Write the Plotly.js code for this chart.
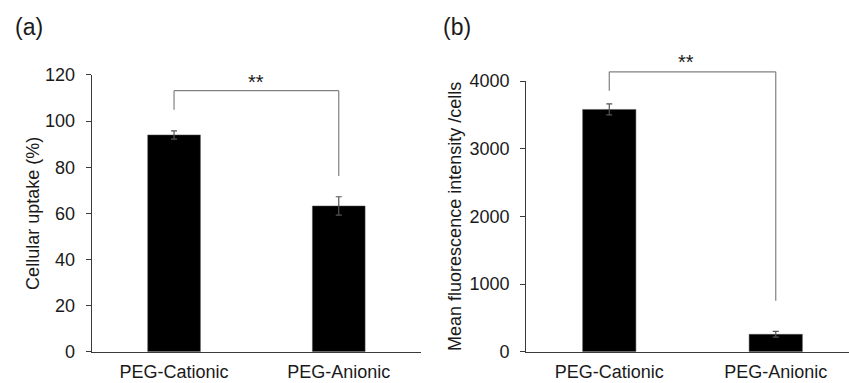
<!DOCTYPE html>
<html>
<head>
<meta charset="utf-8">
<script src="https://cdn.plot.ly/plotly-3.0.1.min.js"></script>
<style>html,body{margin:0;padding:0;background:#fff;}#chart{width:849px;height:383px;}</style>
</head>
<body>
<div id="chart"></div>
<script>
// ---- data ----
const categories = ["PEG-Cationic", "PEG-Anionic"];
const uptakeValues = [94.0, 63.2];
const uptakeErrors = [1.8, 4.0];
const mfiValues = [3580, 257];
const mfiErrors = [82, 42];
// significance brackets: [top level, left leg bottom, right leg bottom]
const bracketA = [113.2, 104.9, 76.2];
const bracketB = [4136, 3855, 753];
const sigLabel = "**";
const panelLabels = ["(a)", "(b)"];
const yTitles = ["Cellular uptake (%)", "Mean fluorescence intensity /cells"];
const yTicksA = [0, 20, 40, 60, 80, 100, 120];
const yTicksB = [0, 1000, 2000, 3000, 4000];

const FONT = "Liberation Sans, Arial, sans-serif";
const TXT = "#1a1a1a";
const AXC = "#3a3a3a";

// layout geometry
const domA = [0.0817, 0.8042];
const domB = [0.0817, 0.7885];
const rangeA = [0, 120];
const rangeB = [0, 4000];
// invisible overlay scale for panel (b) brackets, same units as y2 but taller domain
const domB3 = [0.0817, 0.97];
const rangeB3 = [0, rangeB[1] * (domB3[1] - domB3[0]) / (domB[1] - domB[0])];

function barTrace(vals, errs, xa, ya) {
  return {
    type: "bar", x: categories, y: vals, xaxis: xa, yaxis: ya,
    width: 0.32,
    marker: {color: "#000000", line: {color: "#555555", width: 0.5}},
    error_y: {type: "data", array: errs, visible: true, color: "#555555", thickness: 1.2, width: 3},
    hoverinfo: "skip", showlegend: false
  };
}

function bracket(xref, yref, b) {
  const line = {color: "#808080", width: 1.2};
  return [
    {type: "line", xref: xref, yref: yref, x0: categories[0], x1: categories[0], y0: b[1], y1: b[0], line: line},
    {type: "line", xref: xref, yref: yref, x0: categories[0], x1: categories[1], y0: b[0], y1: b[0], line: line},
    {type: "line", xref: xref, yref: yref, x0: categories[1], x1: categories[1], y0: b[2], y1: b[0], line: line}
  ];
}

const yAxisCommon = {
  showgrid: false, zeroline: false, showline: true, linecolor: AXC, linewidth: 1,
  ticks: "outside", ticklen: 5, tickcolor: AXC, tickwidth: 1,
  tickfont: {family: FONT, size: 18, color: TXT},
  ticklabelstandoff: 7, fixedrange: true
};
const xAxisCommon = {
  showgrid: false, zeroline: false, showline: true, linecolor: AXC, linewidth: 1,
  ticks: "", tickfont: {family: FONT, size: 18, color: TXT},
  ticklabelstandoff: 4, fixedrange: true, type: "category"
};

const layout = {
  width: 849, height: 383,
  margin: {l: 0, r: 0, t: 0, b: 0},
  paper_bgcolor: "#ffffff", plot_bgcolor: "rgba(0,0,0,0)",
  showlegend: false, bargap: 0,
  xaxis: Object.assign({}, xAxisCommon, {domain: [0.108, 0.496], range: [-0.5, 1.5], anchor: "y"}),
  yaxis: Object.assign({}, yAxisCommon, {domain: domA, range: rangeA, tickvals: yTicksA,
    anchor: "x", title: {text: yTitles[0], font: {family: FONT, size: 18, color: TXT}, standoff: 0}}),
  xaxis2: Object.assign({}, xAxisCommon, {domain: [0.6196, 1.0], range: [-0.5, 1.44], anchor: "y2"}),
  yaxis2: Object.assign({}, yAxisCommon, {domain: domB, range: rangeB, tickvals: yTicksB,
    anchor: "x2", title: {text: yTitles[1], font: {family: FONT, size: 18, color: TXT}, standoff: 3}}),
  yaxis3: {domain: domB3, range: rangeB3, anchor: "x2", visible: false, fixedrange: true,
    showgrid: false, zeroline: false, showline: false, showticklabels: false},
  shapes: bracket("x", "y", bracketA).concat(bracket("x2", "y3", bracketB)),
  annotations: [
    {xref: "paper", yref: "paper", x: 13/849, y: 1 - 27/383, xanchor: "left", yanchor: "middle",
     text: panelLabels[0], showarrow: false, font: {family: FONT, size: 23, color: TXT}},
    {xref: "paper", yref: "paper", x: 441/849, y: 1 - 27/383, xanchor: "left", yanchor: "middle",
     text: panelLabels[1], showarrow: false, font: {family: FONT, size: 23, color: TXT}},
    {xref: "x", yref: "y", x: 0.5, y: bracketA[0], yanchor: "middle", yshift: 9,
     text: sigLabel, showarrow: false, font: {family: FONT, size: 20, color: TXT}},
    {xref: "x2", yref: "y3", x: 0.46, y: bracketB[0], yanchor: "middle", yshift: 10,
     text: sigLabel, showarrow: false, font: {family: FONT, size: 20, color: TXT}}
  ]
};

Plotly.newPlot("chart", [
  barTrace(uptakeValues, uptakeErrors, "x", "y"),
  barTrace(mfiValues, mfiErrors, "x2", "y2"),
  {type: "scatter", mode: "none", x: [], y: [], xaxis: "x2", yaxis: "y3", showlegend: false, hoverinfo: "skip"}
], layout, {staticPlot: true, displayModeBar: false});
</script>
</body>
</html>
